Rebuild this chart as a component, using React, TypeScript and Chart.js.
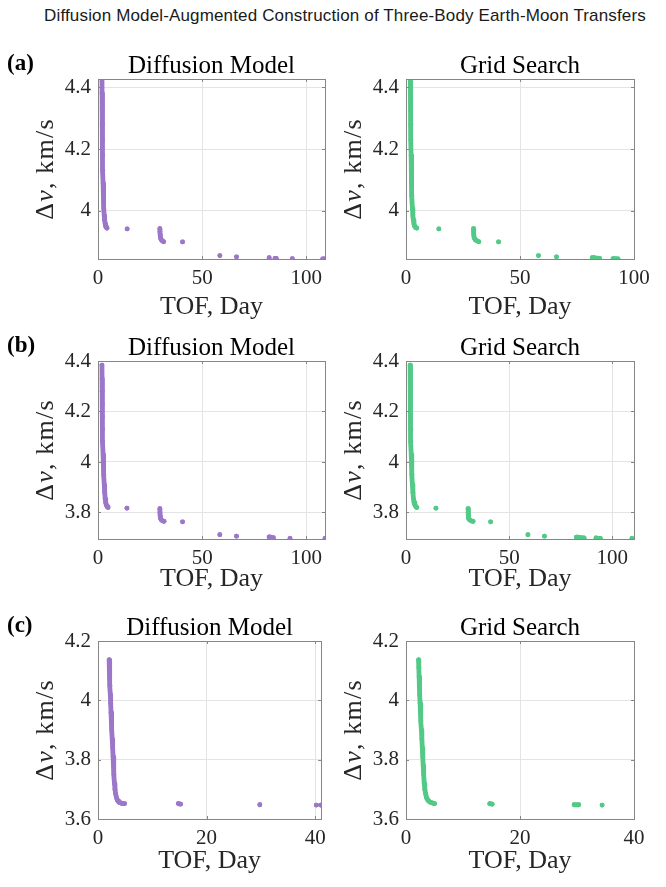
import React, { useEffect, useRef } from "react";
import { Chart, registerables } from "chart.js";
Chart.register(...registerables);

// ---------------- data (TOF in days, Δv in km/s); null separates point groups ----------------
const A_DIFF_TOF = [1.9, 1.95, 2.0, 2.08, 2.15, 2.25, 2.35, 2.45, 2.6, 2.8, 3.0, 3.2, 3.45, 3.7, 4.0, 4.3, null, 14.0, null, 29.7, 29.75, 29.85, 30.0, 30.3, 30.8, 31.5, null, 40.6, null, 58.5, null, 66.5, null, 82.2, null, 85.0, 85.6, null, 93.3, null, 107.9, 108.8];
const A_DIFF_DV = [4.43, 4.38, 4.33, 4.28, 4.23, 4.18, 4.13, 4.09, 4.05, 4.01, 3.985, 3.97, 3.958, 3.951, 3.947, 3.945, null, 3.942, null, 3.943, 3.933, 3.923, 3.914, 3.908, 3.904, 3.901, null, 3.9, null, 3.856, null, 3.852, null, 3.849, null, 3.847, 3.847, null, 3.846, null, 3.845, 3.845];

const A_GRID_TOF = [1.9, 1.95, 2.0, 2.08, 2.15, 2.25, 2.35, 2.45, 2.6, 2.8, 3.0, 3.25, 3.5, 3.8, 4.2, 4.7, null, 14.4, null, 29.6, 29.65, 29.75, 29.9, 30.3, 31.0, 31.9, null, 40.6, null, 58.1, null, 66.0, null, 81.7, 82.6, null, 83.8, 84.9, null, 90.8, 91.6, null, 92.4, 93.0];
const A_GRID_DV = [4.43, 4.38, 4.33, 4.28, 4.23, 4.18, 4.13, 4.09, 4.05, 4.01, 3.985, 3.97, 3.958, 3.951, 3.947, 3.945, null, 3.942, null, 3.943, 3.933, 3.923, 3.914, 3.908, 3.904, 3.901, null, 3.9, null, 3.856, null, 3.852, null, 3.849, 3.849, null, 3.848, 3.847, null, 3.846, 3.846, null, 3.845, 3.845];

const B_DIFF_TOF = [1.9, 1.95, 2.0, 2.05, 2.12, 2.2, 2.3, 2.45, 2.6, 2.8, 3.0, 3.2, 3.45, 3.7, 4.0, 4.4, 4.8, null, 13.9, null, 29.7, 29.75, 29.85, 30.0, 30.4, 31.0, 31.7, null, 40.6, null, 58.5, null, 66.5, null, 82.2, 83.0, null, 84.2, null, 92.2, null, 109.0];
const B_DIFF_DV = [4.384, 4.33, 4.28, 4.23, 4.18, 4.13, 4.08, 4.03, 3.99, 3.95, 3.91, 3.88, 3.855, 3.84, 3.83, 3.823, 3.82, null, 3.817, null, 3.815, 3.8, 3.787, 3.777, 3.771, 3.767, 3.765, null, 3.763, null, 3.712, null, 3.706, null, 3.703, 3.702, null, 3.7, null, 3.697, null, 3.697];

const B_GRID_TOF = [2.0, 2.05, 2.1, 2.15, 2.22, 2.3, 2.4, 2.55, 2.7, 2.9, 3.1, 3.35, 3.6, 3.9, 4.3, 4.8, 5.2, null, 14.5, null, 30.1, 30.15, 30.25, 30.4, 30.8, 31.6, 32.5, null, 41.0, null, 59.1, null, 67.1, null, 82.6, 83.5, null, 84.8, 86.3, null, 92.1, 92.8, null, 93.6, 94.2, null, 109.5];
const B_GRID_DV = [4.384, 4.33, 4.28, 4.23, 4.18, 4.13, 4.08, 4.03, 3.99, 3.95, 3.91, 3.88, 3.855, 3.84, 3.83, 3.823, 3.82, null, 3.817, null, 3.815, 3.8, 3.787, 3.777, 3.771, 3.767, 3.765, null, 3.763, null, 3.712, null, 3.706, null, 3.702, 3.702, null, 3.7, 3.699, null, 3.699, 3.698, null, 3.697, 3.697, null, 3.697];

const C_DIFF_TOF = [2.05, 2.1, 2.15, 2.2, 2.27, 2.33, 2.4, 2.47, 2.55, 2.62, 2.7, 2.78, 2.86, 2.94, 3.03, 3.13, 3.25, 3.4, 3.55, 3.7, 3.85, 4.0, 4.2, 4.4, 4.6, 4.9, null, 14.8, 15.2, null, 29.8, null, 40.2, null, 41.0];
const C_DIFF_DV = [4.136, 4.11, 4.08, 4.05, 4.02, 3.99, 3.96, 3.93, 3.9, 3.87, 3.84, 3.81, 3.78, 3.75, 3.72, 3.7, 3.685, 3.672, 3.665, 3.66, 3.657, 3.655, 3.654, 3.653, 3.652, 3.652, null, 3.652, 3.65, null, 3.648, null, 3.647, null, 3.647];

const C_GRID_TOF = [2.2, 2.25, 2.3, 2.35, 2.42, 2.48, 2.55, 2.62, 2.7, 2.78, 2.86, 2.94, 3.02, 3.1, 3.2, 3.3, 3.45, 3.6, 3.8, 4.0, 4.2, 4.5, 4.8, 5.0, null, 14.7, 15.1, null, 29.5, 30.3, null, 34.4];
const C_GRID_DV = [4.136, 4.11, 4.08, 4.05, 4.02, 3.99, 3.96, 3.93, 3.9, 3.87, 3.84, 3.81, 3.78, 3.75, 3.72, 3.7, 3.685, 3.672, 3.665, 3.66, 3.657, 3.655, 3.653, 3.652, null, 3.652, 3.65, null, 3.648, 3.648, null, 3.647];

const SUBPLOT_TITLES = ["Diffusion Model", "Grid Search"];
const ROW_LABELS = ["(a)", "(b)", "(c)"];
const X_LABEL = "TOF, Day";
const MAIN_TITLE = "Diffusion Model-Augmented Construction of Three-Body Earth-Moon Transfers";

// axis limits per panel [xMin, xMax, xStep, yMin, yMax, yStep]
const LIMITS = [
  [0, 109, 50, 3.845, 4.426, 0.2],
  [0, 100, 50, 3.845, 4.426, 0.2],
  [0, 109, 50, 3.695, 4.4, 0.2],
  [0, 110.5, 50, 3.695, 4.4, 0.2],
  [0, 41.1, 20, 3.6, 4.2, 0.2],
  [0, 40, 20, 3.6, 4.2, 0.2],
];
const SERIES = [
  [A_DIFF_TOF, A_DIFF_DV],
  [A_GRID_TOF, A_GRID_DV],
  [B_DIFF_TOF, B_DIFF_DV],
  [B_GRID_TOF, B_GRID_DV],
  [C_DIFF_TOF, C_DIFF_DV],
  [C_GRID_TOF, C_GRID_DV],
];

// ---------------- styles / layout ----------------
const SERIF = "'Liberation Serif', 'Times New Roman', serif";
const PURPLE = "#9c77c9";
const GREEN = "#53c987";
const TEXT = "#262626";
const GRID = "#e4e4e4";
const BOX = "#868686";

const ROW_CHART_TOP = [79, 361, 641];
const ROW_CHART_BOTTOM = [259, 539, 819];
const ROW_XTITLE_PAD = [9, 17, 14.5];
const COL_LEFT = [0, 333];
const COL_YAXIS_W = [98, 73];
const COL_RIGHT_PAD = [8, 32];
const TITLE_H = 49;
const XAXIS_H = 70;

const framePlugin = {
  id: "frame",
  afterDatasetsDraw(chart: any) {
    const { ctx, chartArea: a, scales } = chart;
    ctx.save();
    ctx.strokeStyle = BOX;
    ctx.lineWidth = 1;
    const tl = 3;
    ctx.beginPath();
    for (const t of scales.x.ticks) {
      const px = Math.round(scales.x.getPixelForValue(t.value)) + 0.5;
      ctx.moveTo(px, a.bottom); ctx.lineTo(px, a.bottom - tl);
      ctx.moveTo(px, a.top); ctx.lineTo(px, a.top + tl);
    }
    for (const t of scales.y.ticks) {
      const py = Math.round(scales.y.getPixelForValue(t.value)) + 0.5;
      ctx.moveTo(a.left, py); ctx.lineTo(a.left + tl, py);
      ctx.moveTo(a.right, py); ctx.lineTo(a.right - tl, py);
    }
    ctx.stroke();
    ctx.strokeRect(Math.round(a.left) + 0.5, Math.round(a.top) + 0.5, Math.round(a.right - a.left), Math.round(a.bottom - a.top));
    ctx.restore();
  },
};

const labelPlugin = {
  id: "extraLabels",
  afterDraw(chart: any, _args: any, opts: any) {
    const { ctx, chartArea: a } = chart;
    ctx.save();
    // y-axis label with italic v
    const size = 26;
    const parts: [string, string][] = [
      ["Δ", `${size}px ${SERIF}`],
      ["v", `italic ${size}px ${SERIF}`],
      [", km/s", `${size}px ${SERIF}`],
    ];
    (ctx as any).letterSpacing = "1.2px";
    let total = 0;
    const widths: number[] = [];
    for (const [t, f] of parts) { ctx.font = f; const w = ctx.measureText(t).width; widths.push(w); total += w; }
    ctx.translate(a.left - 45, (a.top + a.bottom) / 2);
    ctx.rotate(-Math.PI / 2);
    ctx.fillStyle = TEXT;
    ctx.textBaseline = "alphabetic";
    ctx.textAlign = "left";
    let x = -total / 2;
    parts.forEach(([t, f], i) => { ctx.font = f; ctx.fillText(t, x, 0); x += widths[i]; });
    ctx.restore();
    if (opts && opts.rowLabel) {
      ctx.save();
      ctx.font = `bold 23px ${SERIF}`;
      ctx.fillStyle = "#000";
      ctx.textBaseline = "alphabetic";
      ctx.textAlign = "left";
      ctx.fillText(opts.rowLabel, 7, a.top - 9.5);
      ctx.restore();
    }
  },
};

function PanelChart({ idx }: { idx: number }) {
  const ref = useRef<HTMLCanvasElement | null>(null);
  const row = Math.floor(idx / 2);
  const col = idx % 2;
  const top = ROW_CHART_TOP[row] - TITLE_H;
  const height = TITLE_H + (ROW_CHART_BOTTOM[row] - ROW_CHART_TOP[row]) + XAXIS_H;
  const width = 333;
  useEffect(() => {
    if (!ref.current) return;
    const [xs, ys] = SERIES[idx];
    const [xMin, xMax, xStep, yMin, yMax, yStep] = LIMITS[idx];
    const color = col === 0 ? PURPLE : GREEN;
    const data = (xs as (number | null)[]).map((x, i) => ({ x, y: (ys as (number | null)[])[i] }));
    const chart = new Chart(ref.current, {
      type: "scatter",
      data: {
        datasets: [
          {
            data: data as any,
            showLine: true,
            spanGaps: false,
            borderColor: color,
            backgroundColor: color,
            borderWidth: 4.8,
            borderCapStyle: "round",
            borderJoinStyle: "round",
            pointRadius: 2.4,
            pointBorderWidth: 0,
            pointHoverRadius: 2.4,
            clip: 0,
          } as any,
        ],
      },
      options: {
        animation: false,
        responsive: false,
        maintainAspectRatio: false,
        devicePixelRatio: 1,
        events: [],
        layout: { autoPadding: false, padding: { left: 0, top: 0, bottom: 0, right: COL_RIGHT_PAD[col] } } as any,
        plugins: {
          legend: { display: false },
          tooltip: { enabled: false },
          title: {
            display: true,
            text: SUBPLOT_TITLES[col],
            fullSize: false,
            color: "#000",
            font: { family: SERIF, size: 25, weight: "normal", lineHeight: 1 },
            padding: { top: 23.5, bottom: 0.5 },
          },
          extraLabels: { rowLabel: col === 0 ? ROW_LABELS[row] : null },
        } as any,
        scales: {
          x: {
            type: "linear",
            min: xMin,
            max: xMax,
            afterFit: (s: any) => { s.height = XAXIS_H; },
            ticks: {
              stepSize: xStep,
              includeBounds: false,
              maxRotation: 0,
              autoSkip: false,
              padding: 7,
              color: TEXT,
              font: { family: SERIF, size: 21, lineHeight: 1.2 },
              callback: (v: any) => String(Math.round(Number(v))),
            },
            grid: { color: GRID, lineWidth: 1, drawTicks: false },
            border: { display: false },
            title: {
              display: true,
              text: X_LABEL,
              color: TEXT,
              font: { family: SERIF, size: 26, lineHeight: 1 },
              padding: { top: 0, bottom: ROW_XTITLE_PAD[row] },
            },
          },
          y: {
            type: "linear",
            min: yMin,
            max: yMax,
            afterFit: (s: any) => { s.width = COL_YAXIS_W[col]; },
            ticks: {
              stepSize: yStep,
              includeBounds: false,
              autoSkip: false,
              padding: 7,
              color: TEXT,
              font: { family: SERIF, size: 21, lineHeight: 1.2 },
              callback: (v: any) => String(Math.round(Number(v) * 10) / 10),
            },
            grid: { color: GRID, lineWidth: 1, drawTicks: false },
            border: { display: false },
          },
        } as any,
      },
      plugins: [framePlugin, labelPlugin],
    });
    return () => chart.destroy();
  }, [idx]);
  return (
    <canvas
      ref={ref}
      width={width}
      height={height}
      style={{ position: "absolute", left: COL_LEFT[col], top, width, height, display: "block" }}
    />
  );
}

export default function App() {
  return (
    <div style={{ position: "absolute", left: 0, top: 0, width: 666, height: 887, background: "#fff", overflow: "hidden" }}>
      <div
        style={{
          position: "absolute",
          left: 0,
          top: 6,
          width: 690,
          textAlign: "center",
          fontFamily: "'Liberation Sans', Arial, sans-serif",
          fontSize: 17,
          letterSpacing: 0.15,
          lineHeight: "20px",
          color: "#1a1a1a",
          whiteSpace: "nowrap",
        }}
      >
        {MAIN_TITLE}
      </div>
      {[0, 1, 2, 3, 4, 5].map((i) => (
        <PanelChart key={i} idx={i} />
      ))}
    </div>
  );
}
